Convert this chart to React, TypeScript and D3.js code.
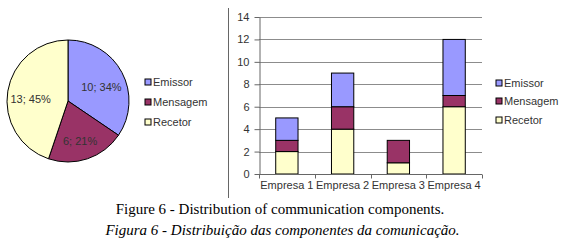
import { useEffect, useRef } from "react"
import * as d3 from "d3"

const series = ["Emissor", "Mensagem", "Recetor"]
const colors = ["#9999ff", "#993366", "#ffffcc"]
const pieValues = [10, 6, 13]

const companies = ["Empresa 1", "Empresa 2", "Empresa 3", "Empresa 4"]
const recetor = [2, 4, 1, 6]
const mensagem = [1, 2, 2, 1]
const emissor = [2, 3, 0, 5]
const yTicks = [0, 2, 4, 6, 8, 10, 12, 14]

const captionEn = "Figure 6 - Distribution of communication components."
const captionPt = "Figura 6 - Distribuição das componentes da comunicação."

const FONT = "'Liberation Sans', Arial, sans-serif"
const SERIF = "'Liberation Serif', 'Times New Roman', serif"

export default function App() {
  const svgRef = useRef<SVGSVGElement>(null)

  useEffect(() => {
    if (!svgRef.current) return
    const svg = d3.select(svgRef.current)
    svg.selectAll("*").remove()

    // ---- pie ----
    const cx = 68
    const cy = 101
    const r = 61
    const total = d3.sum(pieValues)
    const pie = d3.pie<number>().sort(null)(pieValues)
    const arc = d3.arc<d3.PieArcDatum<number>>().innerRadius(0).outerRadius(r)
    const labelArc = d3
      .arc<d3.PieArcDatum<number>>()
      .innerRadius(r * 0.62)
      .outerRadius(r * 0.62)

    const pg = svg.append("g").attr("transform", `translate(${cx},${cy})`)
    pg.selectAll("path")
      .data(pie)
      .enter()
      .append("path")
      .attr("d", arc)
      .attr("fill", (_d, i) => colors[i])
      .attr("stroke", "#000")
      .attr("stroke-width", 1)

    pg.selectAll("text")
      .data(pie)
      .enter()
      .append("text")
      .attr("x", (d) => labelArc.centroid(d)[0])
      .attr("y", (d) => labelArc.centroid(d)[1] + 4)
      .attr("dy", "0.35em")
      .attr("text-anchor", "middle")
      .attr("font-family", FONT)
      .attr("font-size", 11)
      .attr("fill", "#333")
      .text((d) => `${d.data}; ${Math.round((d.data / total) * 100)}%`)

    const drawLegend = (x: number, ys: number[]) => {
      const lg = svg.append("g")
      series.forEach((s, i) => {
        lg.append("rect")
          .attr("x", x)
          .attr("y", ys[i] - 3)
          .attr("width", 6)
          .attr("height", 6)
          .attr("fill", colors[i])
          .attr("stroke", "#000")
          .attr("stroke-width", 1)
        lg.append("text")
          .attr("x", x + 8)
          .attr("y", ys[i])
          .attr("dy", "0.35em")
          .attr("font-family", FONT)
          .attr("font-size", 11)
          .attr("fill", "#333")
          .text(s)
      })
    }
    drawLegend(145, [82, 102, 122])

    // divider
    svg.append("line")
      .attr("x1", 228.5).attr("x2", 228.5)
      .attr("y1", 8).attr("y2", 198)
      .attr("stroke", "#666")
      .attr("stroke-width", 1)

    // ---- stacked bars ----
    const left = 259
    const right = 482
    const top = 17
    const bottom = 174
    const x = d3.scaleBand().domain(companies).range([left, right]).paddingInner(0).paddingOuter(0)
    const y = d3.scaleLinear().domain([0, 14]).range([bottom, top])

    const g = svg.append("g")
    // gridlines
    g.selectAll(".grid")
      .data(yTicks.filter((t) => t > 0))
      .enter()
      .append("line")
      .attr("x1", left).attr("x2", right)
      .attr("y1", (d) => Math.round(y(d)) + 0.5)
      .attr("y2", (d) => Math.round(y(d)) + 0.5)
      .attr("stroke", "#8c8c8c")
      .attr("stroke-width", 1)

    const rows = companies.map((c, i) => ({ c, Recetor: recetor[i], Mensagem: mensagem[i], Emissor: emissor[i] }))
    const keys = ["Recetor", "Mensagem", "Emissor"]
    const stack = d3.stack<any>().keys(keys)(rows)
    const bw = x.bandwidth() * 0.4
    stack.forEach((layer) => {
      const ci = series.indexOf(layer.key)
      g.selectAll(null)
        .data(layer.filter((d) => d[1] > d[0]))
        .enter()
        .append("rect")
        .attr("x", (d) => (x(d.data.c) as number) + x.bandwidth() / 2 - bw / 2)
        .attr("y", (d) => y(d[1]))
        .attr("width", bw)
        .attr("height", (d) => y(d[0]) - y(d[1]))
        .attr("fill", colors[ci])
        .attr("stroke", "#000")
        .attr("stroke-width", 1)
    })

    // y axis
    const ya = g.append("g")
      .attr("transform", `translate(${left + 0.5},0)`)
      .call(d3.axisLeft(y).tickValues(yTicks).tickSize(5).tickSizeOuter(0).tickPadding(5))
    ya.select(".domain").attr("stroke", "#666")
    ya.selectAll(".tick line").attr("stroke", "#666")
    ya.selectAll("text").attr("font-family", FONT).attr("font-size", 11).attr("fill", "#333")

    // x axis
    const xa = g.append("g").attr("transform", `translate(0,${bottom + 0.5})`)
    xa.append("line")
      .attr("x1", left).attr("x2", right)
      .attr("stroke", "#666")
    const bounds = [...companies.map((c) => x(c) as number), right]
    xa.selectAll(".tk")
      .data(bounds)
      .enter()
      .append("line")
      .attr("x1", (d) => Math.round(d) + 0.5)
      .attr("x2", (d) => Math.round(d) + 0.5)
      .attr("y1", 0)
      .attr("y2", 4)
      .attr("stroke", "#666")
    xa.selectAll(".lbl")
      .data(companies)
      .enter()
      .append("text")
      .attr("x", (d) => (x(d) as number) + x.bandwidth() / 2)
      .attr("y", 14)
      .attr("text-anchor", "middle")
      .attr("font-family", FONT)
      .attr("font-size", 11)
      .attr("fill", "#333")
      .text((d) => d)

    drawLegend(496, [83, 101, 120])

    // ---- captions ----
    svg.append("text")
      .attr("x", 280)
      .attr("y", 214)
      .attr("text-anchor", "middle")
      .attr("font-family", SERIF)
      .attr("font-size", 15)
      .attr("fill", "#000")
      .text(captionEn)
    svg.append("text")
      .attr("x", 282.5)
      .attr("y", 235)
      .attr("text-anchor", "middle")
      .attr("font-family", SERIF)
      .attr("font-style", "italic")
      .attr("font-size", 15)
      .attr("fill", "#000")
      .text(captionPt)
  }, [])

  return (
    <div style={{ position: "absolute", left: 0, top: 0 }}>
      <svg ref={svgRef} width={569} height={244} style={{ display: "block", background: "#fff" }} />
    </div>
  )
}
